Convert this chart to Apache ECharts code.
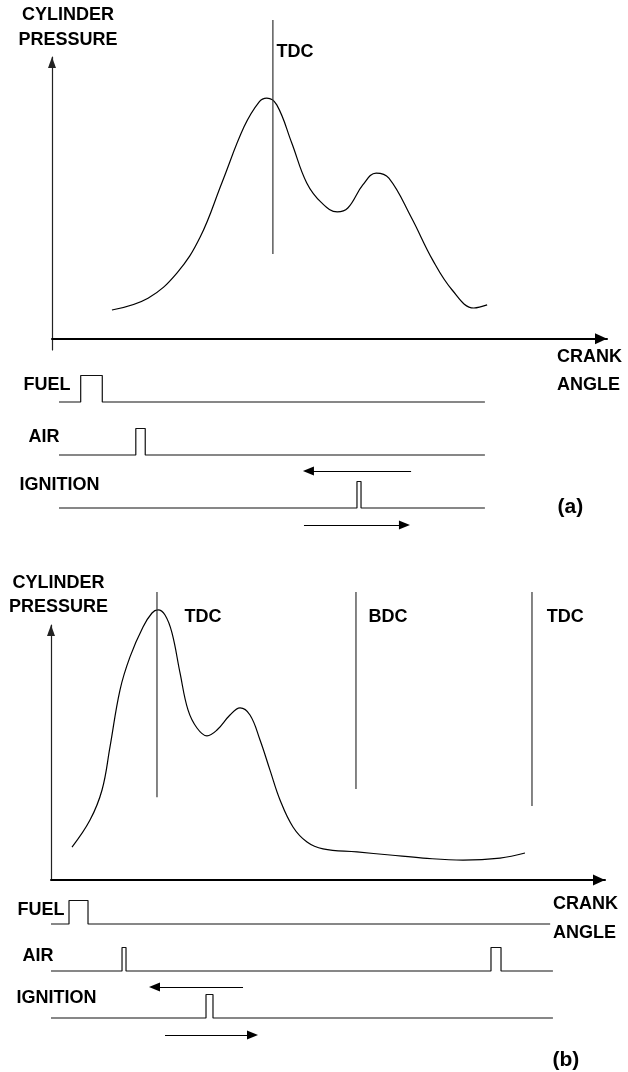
<!DOCTYPE html>
<html>
<head>
<meta charset="utf-8">
<script src="https://cdn.jsdelivr.net/npm/echarts@6/dist/echarts.min.js"></script>
<style>
  html, body { margin: 0; padding: 0; background: #fff; }
  #chart { width: 628px; height: 1072px; }
</style>
</head>
<body>
<div id="chart"></div>
<script>
// ---------------------------------------------------------------
// Data. Crank position runs 0-100 along each crank-angle axis,
// cylinder pressure 0-100 along each pressure axis.
// Injection / ignition channels: baseline level, pulse height 1.
// ---------------------------------------------------------------

// (a) pressure trace around one firing event
const pressureA = [
  [10.8, 10.2], [17.3, 14.4], [22.5, 23.3], [26.7, 36.1], [30.6, 55.3],
  [34.6, 75.2], [37.3, 84.0], [38.7, 85.4], [40.5, 83.0], [43.2, 69.5],
  [45.9, 55.3], [48.6, 48.2], [51.4, 45.0], [53.3, 46.4], [56.0, 54.6],
  [58.4, 58.8], [60.7, 57.0], [64.7, 43.2], [68.6, 27.9], [72.1, 17.3],
  [76.0, 10.9], [78.4, 12.0]
];
// dead-centre marker: name, crank position, top and bottom pressure
const deadCentresA = [['TDC', 39.8, 113.1, 30.1]];

// (a) channel traces
const channelNames = ['FUEL', 'AIR', 'IGNITION'];
const traceSpanA = [[1.26, 78.0], [1.26, 78.0], [1.26, 78.0]];
const fuelPulsesA = [[5.17, 9.06]];
const airPulsesA = [[15.1, 16.8]];
const ignitionPulsesA = [[54.95, 55.68]];
// ignition timing arrows: from, to, level
const advanceA = [64.7, 46.2, 1.4];
const retardA = [45.4, 63.5, -0.64];

// (b) pressure trace over a full cycle
const pressureB = [
  [3.79, 12.9], [7.04, 23.5], [9.21, 35.3], [10.65, 52.2], [12.45, 74.5],
  [14.26, 87.5], [16.61, 99.2], [18.23, 104.7], [19.31, 105.9], [20.58, 103.9],
  [21.84, 96.9], [23.29, 81.2], [24.73, 66.7], [26.35, 59.6], [28.16, 56.5],
  [29.96, 58.8], [32.31, 64.7], [34.12, 67.5], [35.92, 64.7], [37.73, 54.9],
  [39.53, 43.1], [41.34, 31.4], [43.68, 20.8], [46.21, 14.9], [49.10, 12.2],
  [55.23, 11.0], [61.19, 9.8], [67.15, 8.6], [74.37, 7.8], [81.05, 8.6],
  [85.56, 10.6]
];
const deadCentresB = [
  ['TDC', 19.13, 112.9, 32.5],
  ['BDC', 55.05, 112.9, 35.7],
  ['TDC', 86.82, 112.9, 29.0]
];

// (b) channel traces
const traceSpanB = [[0, 90.1], [0, 90.6], [0, 90.6]];
const fuelPulsesB = [[3.25, 6.68]];
const airPulsesB = [[12.82, 13.54], [79.42, 81.23]];
const ignitionPulsesB = [[27.98, 29.24]];
const advanceB = [34.66, 18.68, 1.32];
const retardB = [20.58, 36.37, -0.72];

// ---------------------------------------------------------------
// Layout: text anchors in axis units
// ---------------------------------------------------------------
const layout = {
  a: {
    markLabels: [[40.36, 101.8]],
    channelLabels: [[-5.23, 4.64], [-4.32, 2.68], [-5.95, 0.87]],
    caption: ['(a)', 91.0, 0.04]
  },
  b: {
    markLabels: [[24.01, 103.1], [57.2, 103.1], [89.4, 103.1]],
    channelLabels: [[-6.14, 4.6], [-5.23, 2.64], [-6.32, 0.85]],
    caption: ['(b)', 90.43, -1.79]
  }
};

const FONT = "'Liberation Sans', Arial, sans-serif";
const FONT_SIZE = 18;
const textStyle = { fontFamily: FONT, fontWeight: 'bold', fontSize: FONT_SIZE, color: '#000' };
const baseLevels = [4, 2, 0];

function stepTrace(span, pulses, base) {
  const pts = [[span[0], base]];
  pulses.forEach(([s, e]) => {
    pts.push([s, base], [s, base + 1], [e, base + 1], [e, base]);
  });
  pts.push([span[1], base]);
  return pts;
}

function hiddenAxes(grid, ymin, ymax) {
  return {
    x: { gridIndex: grid, type: 'value', min: 0, max: 100, show: false },
    y: { gridIndex: grid, type: 'value', min: ymin, max: ymax, show: false }
  };
}

function pressureAxes(grid, ymin, opts) {
  const x = {
    gridIndex: grid, type: 'value', min: 0, max: 100,
    axisLine: {
      show: true, onZero: true, symbol: ['none', 'triangle'],
      symbolSize: [11, 12], symbolOffset: [0, -6],
      lineStyle: { color: '#000', width: 2 }
    },
    axisTick: { show: false }, axisLabel: { show: false }, splitLine: { show: false },
    name: 'CRANK\nANGLE', nameLocation: 'end', nameGap: opts.xNameGap,
    nameTextStyle: Object.assign({}, textStyle, {
      align: 'left', verticalAlign: 'top', lineHeight: opts.xLineHeight,
      padding: [opts.xNamePadTop, 0, 0, 0]
    })
  };
  const y = {
    gridIndex: grid, type: 'value', min: ymin, max: 100,
    axisLine: {
      show: true, onZero: false, symbol: ['none', 'triangle'],
      symbolSize: [8, 11], symbolOffset: [0, -5.5],
      lineStyle: { color: '#222', width: 1.2 }
    },
    axisTick: { show: false }, axisLabel: { show: false }, splitLine: { show: false },
    name: 'CYLINDER\nPRESSURE', nameLocation: 'end', nameGap: opts.yNameGap,
    nameTextStyle: Object.assign({}, textStyle, {
      lineHeight: opts.yLineHeight, padding: [0, 0, 0, opts.yNameShift]
    })
  };
  return { x, y };
}

function labelSeries(xi, yi, items, fontSize) {
  return {
    type: 'scatter', xAxisIndex: xi, yAxisIndex: yi, clip: false, silent: true,
    symbolSize: 1, itemStyle: { color: 'rgba(0,0,0,0)' },
    label: {
      show: true, position: 'right', distance: 0,
      formatter: p => p.data[2],
      fontFamily: FONT, fontWeight: 'bold', fontSize: fontSize || FONT_SIZE, color: '#000',
      opacity: 1, textBorderWidth: 0
    },
    data: items
  };
}

function lineSeries(xi, yi, data, opt) {
  return Object.assign({
    type: 'line', xAxisIndex: xi, yAxisIndex: yi, clip: false, silent: true,
    symbol: 'none', animation: false,
    lineStyle: { color: '#111', width: 1.2 },
    data: data
  }, opt || {});
}

function arrowSeries(xi, yi, arrows) {
  return {
    type: 'lines', coordinateSystem: 'cartesian2d', xAxisIndex: xi, yAxisIndex: yi,
    silent: true, symbol: ['none', 'triangle'], symbolSize: [0, [9, 11]],
    lineStyle: { color: '#000', width: 1.2, opacity: 1 },
    data: arrows.map(a => ({ coords: [[a[0], a[2]], [a[1], a[2]]] }))
  };
}

function panelSeries(pAxis, sAxis, pressure, marks, spans, pulses, arrows, lay) {
  const out = [];
  out.push(lineSeries(pAxis, pAxis, pressure, { smooth: 0.4, lineStyle: { color: '#000', width: 1.2 } }));
  marks.forEach(m => {
    out.push(lineSeries(pAxis, pAxis, [[m[1], m[2]], [m[1], m[3]]], { lineStyle: { color: '#333', width: 1.2 } }));
  });
  out.push(labelSeries(pAxis, pAxis, marks.map((m, i) => [lay.markLabels[i][0], lay.markLabels[i][1], m[0]])));
  channelNames.forEach((name, i) => {
    out.push(lineSeries(sAxis, sAxis, stepTrace(spans[i], pulses[i], baseLevels[i]), { lineStyle: { color: '#111', width: 1.2 } }));
  });
  out.push(labelSeries(sAxis, sAxis, channelNames.map((n, i) => [lay.channelLabels[i][0], lay.channelLabels[i][1], n])));
  out.push(labelSeries(sAxis, sAxis, [[lay.caption[1], lay.caption[2], lay.caption[0]]], 21));
  out.push(arrowSeries(sAxis, sAxis, arrows));
  return out;
}

const axA = pressureAxes(0, -4, { xNameGap: -50, xLineHeight: 28, xNamePadTop: 4, yNameGap: 4, yLineHeight: 25, yNameShift: 32 });
const sigA = hiddenAxes(1, -2, 6);
const axB = pressureAxes(2, 0, { xNameGap: -52, xLineHeight: 29, xNamePadTop: 10, yNameGap: 6, yLineHeight: 24, yNameShift: 15 });
const sigB = hiddenAxes(3, -2, 6);

const gridBase = { containLabel: false, outerBoundsMode: 'none' };

const option = {
  backgroundColor: '#fff',
  animation: false,
  grid: [
    Object.assign({ left: 52, top: 57, width: 555, height: 293 }, gridBase),
    Object.assign({ left: 52, top: 349, width: 555, height: 212 }, gridBase),
    Object.assign({ left: 51, top: 625, width: 554, height: 255 }, gridBase),
    Object.assign({ left: 51, top: 877, width: 554, height: 188 }, gridBase)
  ],
  xAxis: [axA.x, sigA.x, axB.x, sigB.x],
  yAxis: [axA.y, sigA.y, axB.y, sigB.y],
  series: [].concat(
    panelSeries(0, 1, pressureA, deadCentresA, traceSpanA,
      [fuelPulsesA, airPulsesA, ignitionPulsesA], [advanceA, retardA], layout.a),
    panelSeries(2, 3, pressureB, deadCentresB, traceSpanB,
      [fuelPulsesB, airPulsesB, ignitionPulsesB], [advanceB, retardB], layout.b)
  )
};

const chart = echarts.init(document.getElementById('chart'), null, { renderer: 'canvas' });
chart.setOption(option);
</script>
</body>
</html>
